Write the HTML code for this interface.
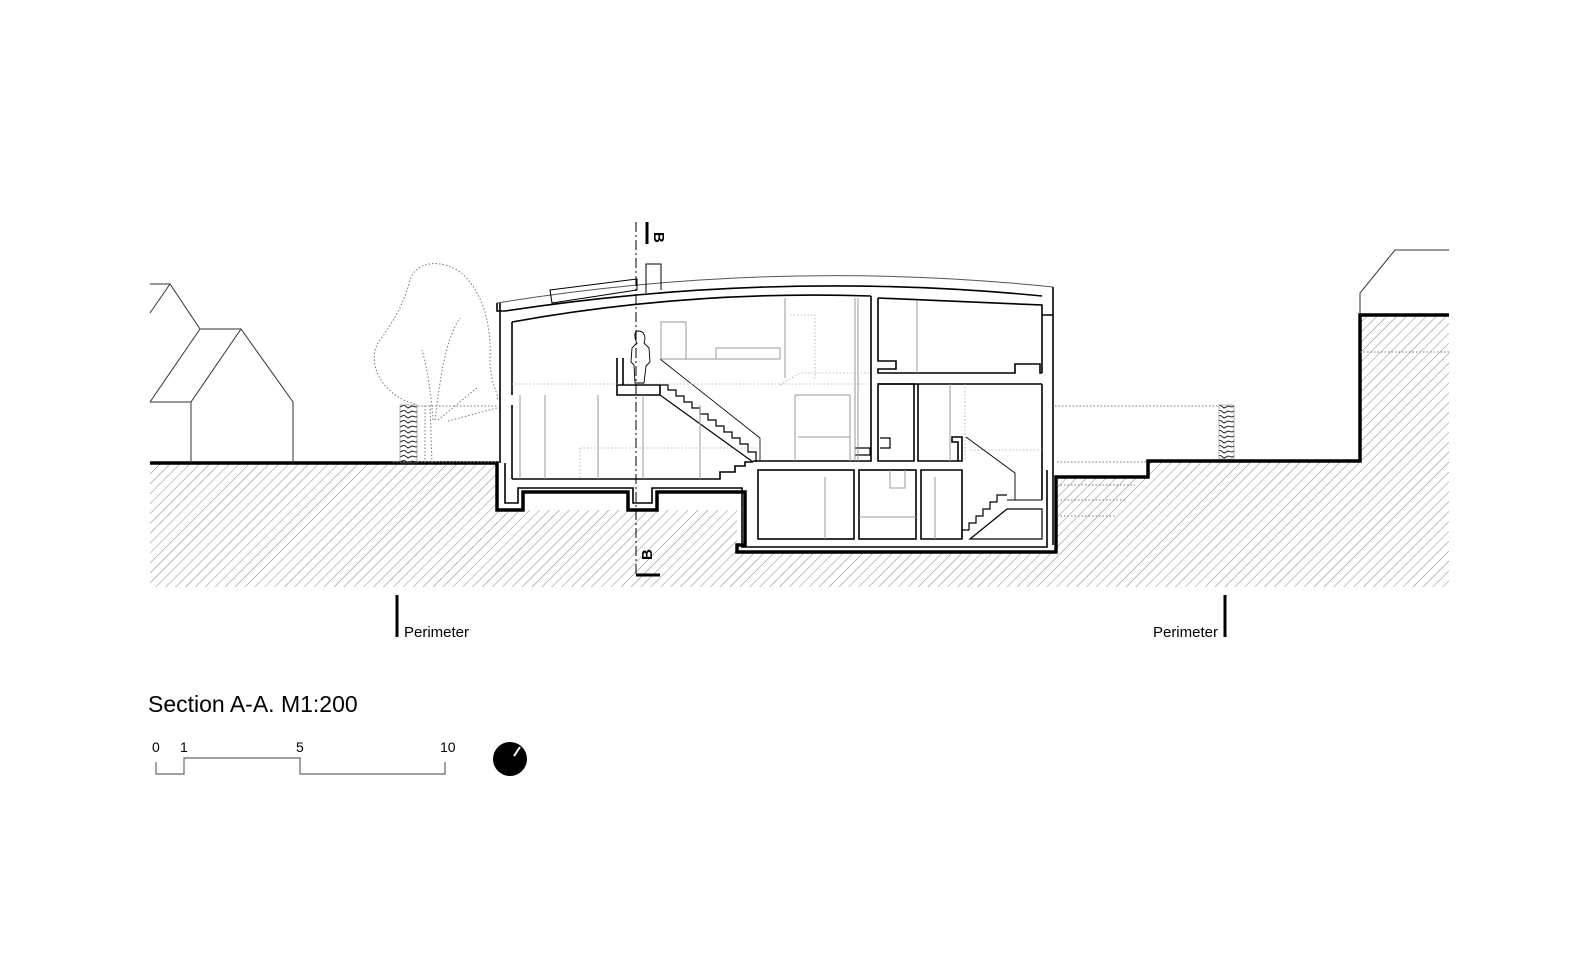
<!DOCTYPE html>
<html><head><meta charset="utf-8"><style>
html,body{margin:0;padding:0;background:#fff;overflow:hidden;}
svg{display:block;}
text{font-family:"Liberation Sans",Arial,sans-serif;}
</style></head><body>
<svg width="1582" height="966" viewBox="0 0 1582 966" xmlns="http://www.w3.org/2000/svg">
<defs>
<pattern id="h" patternUnits="userSpaceOnUse" width="7" height="7" patternTransform="rotate(45)">
<line x1="0" y1="0" x2="0" y2="7" stroke="#777" stroke-width="0.9"/>
</pattern>
<pattern id="hd" patternUnits="userSpaceOnUse" width="16" height="5">
<path d="M0,2 L4,0 L8,3 L12,1 L16,2" fill="none" stroke="#222" stroke-width="1"/>
</pattern>
</defs>
<!-- ground hatch -->
<path d="M150,463 L497,463 L497,510 L737,510 L737,552 L1056,552 L1056,477 L1148,477 L1148,461 L1360,461 L1360,315 L1449,315 L1449,587 L150,587 Z" fill="url(#h)"/>
<!-- building white fill -->
<path d="M497,303 Q775,258 1053,287 L1053,552 L737,552 L737,492 L657,492 L657,510 L628,510 L628,492 L523,492 L523,510 L497,510 Z" fill="#fff"/>
<!-- ground thick line -->
<path d="M150,463 L497,463 L497,510 L523,510 L523,492 L628,492 L628,510 L657,510 L657,492 L745,492 L745,545 L737,545 L737,552 L1056,552 L1056,477 L1148,477 L1148,461 L1360,461 L1360,315 L1449,315" fill="none" stroke="#000" stroke-width="3.5"/>
<!-- houses -->
<g fill="none" stroke="#333" stroke-width="1">
<path d="M150,284 L170,284 L200,329 L241,329 L293,402 L293,463"/>
<path d="M150,313 L170,284"/>
<path d="M150,402 L200,329"/>
<path d="M150,402 L191,402 L241,329"/>
<path d="M191,402 L191,463"/>
<path d="M1360,315 L1360,293 L1395,250 L1449,250"/>
</g>
<!-- tree & dotted -->
<g fill="none" stroke="#777" stroke-width="1" stroke-dasharray="1.5,2">
<path d="M415,404 C380,395 365,360 380,340 C395,320 405,300 410,280 C415,262 440,258 460,272 C480,288 492,320 490,360 C490,385 500,395 497,400"/>
<path d="M425,463 L425,404 M432,463 L430,404 M433,420 C430,380 425,360 422,350 M435,420 C440,380 445,340 460,318 M438,420 L478,387 M448,421 L497,408"/>
<path d="M418,406 L497,406 M393,462 L497,462"/>
<path d="M1055,406 L1218,406"/>
<path d="M1057,462 L1148,462"/>
<path d="M1360,352 L1449,352"/>
<path d="M1057,485 L1135,485 M1057,500 L1125,500 M1057,516 L1115,516"/>
</g>
<!-- hedges -->
<rect x="400" y="405" width="17" height="58" fill="url(#hd)" stroke="#666" stroke-width="0.5"/>
<rect x="1219" y="405" width="15" height="54" fill="url(#hd)" stroke="#666" stroke-width="0.5"/>
<!-- roof & structure -->
<g fill="none" stroke="#000" stroke-width="1.6">
<path d="M497,303 Q775,258 1053,287" stroke="#555" stroke-width="1"/>
<path d="M505,311 Q775,270 1042,296"/>
<path d="M512,322 Q690,290 871,296"/>
<path d="M878,298 L1042,305 L1042,315 L1053,315"/>
<path d="M497,303 L497,311 L505,311"/>
<path d="M500,303 L500,463"/>
<path d="M512,322 L512,395 M512,405 L512,479"/>
<path d="M1053,287 L1053,545"/>
<path d="M1042,315 L1042,373 M1042,384 L1042,500"/>
<path d="M550,290 L637,279 L637,290 L552,303 Z" stroke-width="1"/>
<path d="M646,293 L646,264 L661,264 L661,290" stroke-width="1"/>
<!-- left ground floor -->
<path d="M512,479 L720,479 L720,472 L735,472 L735,466 L745,466 L745,462 L753,462"/>
<path d="M505,463 L505,503 L518,503 L518,488 L633,488 L633,503 L652,503 L652,488 L742,488 L742,547 L1047,547 L1047,470"/>
<path d="M617,358 L617,385 L623,385 L623,358 M617,385 L660,385 L660,395 L617,395 L617,385"/>
<!-- stairs -->
<path d="M660,385 L668,385 L668,390 L676,390 L676,396 L684,396 L684,402 L692,402 L692,408 L700,408 L700,414 L708,414 L708,420 L716,420 L716,426 L724,426 L724,432 L732,432 L732,438 L740,438 L740,444 L748,444 L748,452 L756,452 L756,462" stroke-width="1.2"/>
<path d="M660,395 L753,462" stroke-width="1.2"/>
<path d="M660,359 L760,438 L760,461" stroke-width="0.8"/>
<!-- centre -->
<path d="M753,461 L871,461 L871,296 M878,298 L878,361 L896,361 L896,369 L878,369 L878,373 L1015,373 L1015,364 L1040,364 L1040,373 L1042,373 M878,384 L1042,384"/>
<path d="M878,384 L914,384 L914,461 L878,461 Z"/>
<path d="M918,384 L918,461 L962,461 L962,437 L952,437 L952,442 L958,442 L958,461"/>
<path d="M1042,500 L1007,500 M966,437 L1015,473 L1015,500" stroke-width="0.9"/>
<path d="M962,539 L962,530 L969,530 L969,523 L976,523 L976,516 L983,516 L983,509 L990,509 L990,502 L997,502 L997,495 L1007,495" stroke-width="1.2"/>
<path d="M970,539 L1007,509 L1042,509 L1042,539 Z" stroke-width="1.2"/>
<path d="M921,470 L962,470 L962,539 L921,539 Z"/>
<rect x="758" y="470" width="96" height="69"/>
<rect x="859" y="470" width="57" height="69"/>
<path d="M855,448 L870,448 L870,455 L855,455 M880,438 L890,438 L890,448 L880,448" stroke-width="1.2"/>
<path d="M855,490 L855,490"/>
</g>
<!-- person -->
<path d="M638,331 C645,331 646,338 644,343 L649,348 L650,362 L646,366 L644,383 L635,383 L634,365 L631,362 L632,348 L637,343 C634,338 634,331 638,331 Z" fill="#fff" stroke="#000" stroke-width="0.9"/>
<!-- thin interior lines -->
<g fill="none" stroke="#999" stroke-width="1">
<path d="M520,395 L520,479 M545,395 L545,479 M598,395 L598,479 M643,395 L643,479 M700,405 L700,479"/>
<path d="M661,359 L661,322 L686,322 L686,359 M716,359 L716,348 L780,348 L780,359 M660,359 L780,359"/>
<path d="M785,298 L785,378 M795,395 L795,461 M850,395 L850,461 M795,395 L850,395"/>
<path d="M798,437 L850,437 M855,298 L855,461 M858,298 L858,461"/>
<path d="M917,300 L917,373 M825,477 L825,539 M935,477 L935,539"/>
<path d="M859,517 L916,517 M890,470 L890,488 L905,488 L905,470"/>
<path d="M950,384 L950,461"/>
</g>
<g fill="none" stroke="#aaa" stroke-width="0.8" stroke-dasharray="1.5,2">
<path d="M512,384 L871,384 M580,448 L760,448 M580,448 L580,479"/>
<path d="M790,315 L815,315 L815,380 M780,385 L800,373 L871,373"/>
<path d="M965,384 L965,461 M1042,450 L970,450"/>
</g>
<!-- section line B -->
<line x1="636" y1="222" x2="636" y2="575" stroke="#000" stroke-width="1" stroke-dasharray="10,3,2,3"/>
<line x1="647" y1="222" x2="647" y2="244" stroke="#000" stroke-width="3"/>
<line x1="636" y1="575" x2="660" y2="575" stroke="#000" stroke-width="3"/>
<text x="650" y="236" font-size="15" font-weight="bold" transform="rotate(90 654 236)">B</text>
<text x="662" y="558" font-size="15" font-weight="bold" transform="rotate(-90 658 564)">B</text>
<!-- perimeter -->
<line x1="397" y1="595" x2="397" y2="637" stroke="#000" stroke-width="3"/>
<text x="404" y="637" font-size="15">Perimeter</text>
<line x1="1225" y1="595" x2="1225" y2="637" stroke="#000" stroke-width="3"/>
<text x="1218" y="637" font-size="15" text-anchor="end">Perimeter</text>
<!-- title -->
<text x="148" y="712" font-size="23">Section A-A. M1:200</text>
<!-- scale -->
<path d="M156,762 L156,774 L184,774 L184,758 L300,758 L300,774 L445,774 L445,762" fill="none" stroke="#666" stroke-width="1.2"/>
<g font-size="14"><text x="152" y="752">0</text><text x="180" y="752">1</text><text x="296" y="752">5</text><text x="440" y="752">10</text></g>
<circle cx="510" cy="759" r="17" fill="#000"/>
<line x1="514" y1="756" x2="520" y2="747" stroke="#fff" stroke-width="2"/>
</svg>
</body></html>
